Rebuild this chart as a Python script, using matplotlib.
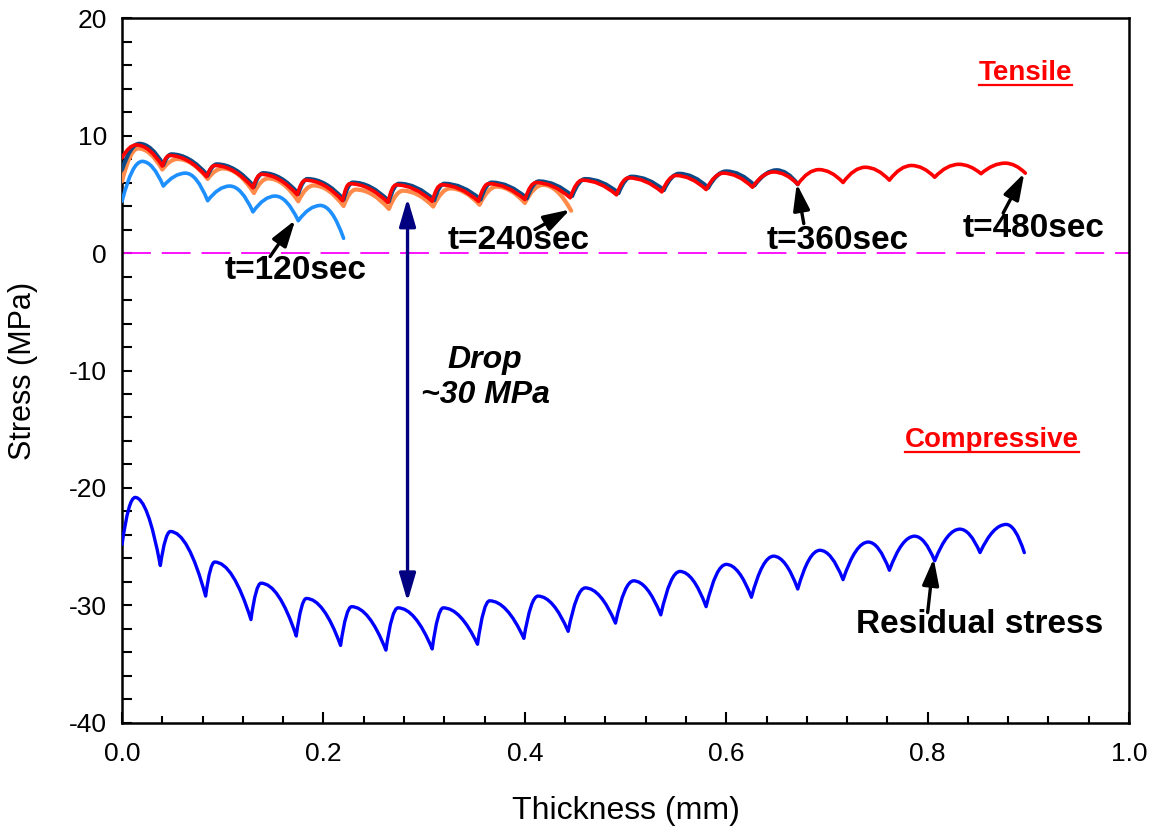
import matplotlib
matplotlib.use("Agg")
import matplotlib.pyplot as plt
from matplotlib.path import Path
from matplotlib.patches import PathPatch, FancyArrowPatch
from matplotlib.lines import Line2D

plt.rcParams['font.family'] = ['Liberation Sans', 'DejaVu Sans']

# Stress profiles through the thickness: each list alternates
# start / crest / trough / crest / ... / end of the deposited layers.
t120_x = [0.000, 0.020, 0.041, 0.063, 0.085, 0.107, 0.130, 0.152, 0.175, 0.197, 0.220]
t120_y = [4.4, 7.8, 5.7, 6.8, 4.45, 5.7, 3.5, 4.85, 2.75, 4.05, 1.25]

t240_x = [0.000, 0.016, 0.040, 0.055, 0.085, 0.100, 0.131, 0.145, 0.175, 0.190,
          0.220, 0.232, 0.265, 0.279, 0.309, 0.326, 0.355, 0.372, 0.400, 0.418, 0.446]
t240_y = [6.1, 8.9, 7.1, 8.0, 6.3, 7.2, 5.1, 6.35, 4.4, 5.75,
          4.0, 5.4, 3.75, 5.3, 3.95, 5.5, 4.1, 5.65, 4.25, 5.8, 3.6]

t360_x = [0.000, 0.017, 0.041, 0.049, 0.085, 0.094, 0.131, 0.140, 0.175, 0.184,
          0.220, 0.229, 0.265, 0.275, 0.310, 0.320, 0.356, 0.367, 0.402, 0.414,
          0.447, 0.460, 0.493, 0.506, 0.538, 0.553, 0.582, 0.600, 0.628, 0.650, 0.671]
t360_y = [7.1, 9.3, 7.5, 8.4, 6.6, 7.55, 5.65, 6.8, 5.05, 6.3,
          4.55, 6.0, 4.4, 5.9, 4.5, 5.9, 4.55, 6.0, 4.65, 6.1,
          4.85, 6.3, 5.1, 6.5, 5.35, 6.75, 5.55, 6.95, 5.75, 7.05, 5.85]

t480_x = [0.000, 0.014, 0.040, 0.047, 0.084, 0.092, 0.130, 0.138, 0.174, 0.182,
          0.219, 0.226, 0.264, 0.272, 0.308, 0.317, 0.354, 0.364, 0.400, 0.411,
          0.445, 0.457, 0.491, 0.503, 0.536, 0.550, 0.580, 0.597, 0.626, 0.647,
          0.671, 0.692, 0.716, 0.738, 0.762, 0.784, 0.807, 0.831, 0.853, 0.877, 0.897]
t480_y = [8.1, 9.2, 7.4, 8.3, 6.5, 7.45, 5.55, 6.7, 4.95, 6.2,
          4.45, 5.9, 4.3, 5.8, 4.4, 5.8, 4.4, 5.9, 4.55, 6.0,
          4.7, 6.2, 4.95, 6.4, 5.2, 6.6, 5.4, 6.8, 5.6, 6.9,
          5.85, 7.1, 6.0, 7.3, 6.2, 7.45, 6.45, 7.55, 6.75, 7.65, 6.8]

resid_x = [0.000, 0.013, 0.038, 0.048, 0.083, 0.092, 0.128, 0.138, 0.173, 0.183,
           0.217, 0.228, 0.262, 0.274, 0.308, 0.319, 0.353, 0.365, 0.399, 0.413,
           0.443, 0.460, 0.490, 0.508, 0.535, 0.554, 0.580, 0.600, 0.625, 0.647,
           0.671, 0.693, 0.716, 0.741, 0.762, 0.787, 0.807, 0.832, 0.852, 0.878, 0.896]
resid_y = [-24.8, -20.8, -26.6, -23.7, -29.2, -26.3, -31.2, -28.1, -32.6, -29.4,
           -33.4, -30.1, -33.8, -30.2, -33.7, -30.2, -33.3, -29.6, -32.8, -29.2,
           -32.2, -28.5, -31.5, -27.9, -30.8, -27.1, -30.1, -26.5, -29.3, -25.8,
           -28.6, -25.3, -27.8, -24.6, -27.0, -24.1, -26.2, -23.5, -25.5, -23.1, -25.5]

x_ticks = [0.0, 0.2, 0.4, 0.6, 0.8, 1.0]
x_tick_labels = ['0.0', '0.2', '0.4', '0.6', '0.8', '1.0']
y_ticks = [-40, -30, -20, -10, 0, 10, 20]
y_tick_labels = ['-40', '-30', '-20', '-10', '0', '10', '20']


def scallop_path(xs, ys):
    """Chain of parabolic arcs; every odd index is a crest with a flat tangent."""
    verts = [(xs[0], ys[0])]
    codes = [Path.MOVETO]
    for i in range(len(xs) - 1):
        crest = i + 1 if i % 2 == 0 else i
        verts.append(((xs[i] + xs[i + 1]) / 2.0, ys[crest]))
        verts.append((xs[i + 1], ys[i + 1]))
        codes += [Path.CURVE3, Path.CURVE3]
    return Path(verts, codes)


fig = plt.figure(figsize=(11.58, 8.31), dpi=100)
ax = fig.add_axes([0.1054, 0.130, 0.8696, 0.8483])
ax.set_xlim(0.0, 1.0)
ax.set_ylim(-40, 20)

series = [
    (t120_x, t120_y, '#1E8FFF', 2.6),
    (t240_x, t240_y, '#FF8A4A', 3.0),
    (t360_x, t360_y, '#0B4A86', 3.0),
    (t480_x, t480_y, '#FF0000', 2.6),
    (resid_x, resid_y, '#0000FF', 2.4),
]
for z, (xs, ys, col, lw) in enumerate(series):
    ax.add_patch(PathPatch(scallop_path(xs, ys), facecolor='none', edgecolor=col,
                           lw=lw, joinstyle='round', capstyle='round', zorder=3 + z))

# zero-stress reference
ax.axhline(0, color='#FF00FF', lw=1.3, dashes=(16, 6), zorder=2)

# stress drop between the last deposition step and the residual state
ax.add_patch(FancyArrowPatch((0.2835, 4.9), (0.2835, -29.9),
                             arrowstyle='<|-|>,head_length=0.85,head_width=0.25',
                             mutation_scale=20, color='#000080', lw=2.4, zorder=9))

label_kw = dict(fontsize=24, fontweight='bold', color='black', ha='center', va='center')
arrow_kw = dict(arrowstyle='-|>,head_length=0.8,head_width=0.25', color='black', lw=2.4,
                mutation_scale=20, shrinkA=0, shrinkB=0)

notes = [
    ('t=120sec', (0.172, -1.45), (0.147, -0.3), (0.172, 2.8)),
    ('t=240sec', (0.394, 1.1), (0.410, 2.0), (0.445, 3.7)),
    ('t=360sec', (0.711, 1.1), (0.677, 2.5), (0.670, 5.9)),
    ('t=480sec', (0.905, 2.05), (0.875, 3.4), (0.896, 6.8)),
    ('Residual stress', (0.852, -31.65), (0.800, -30.6), (0.806, -26.0)),
]
for text, pos, tail, head in notes:
    ax.text(pos[0], pos[1], text, zorder=10, **label_kw)
    ax.add_patch(FancyArrowPatch(tail, head, zorder=10, **arrow_kw))

ax.text(0.3605, -10.6, 'Drop\n~30 MPa', fontsize=23, fontweight='bold', style='italic',
        ha='center', va='center', linespacing=1.25, zorder=10)

under_texts = [
    ax.text(0.897, 15.35, 'Tensile', fontsize=20, fontweight='bold', color='#FF0000',
            ha='center', va='center', zorder=10),
    ax.text(0.864, -15.95, 'Compressive', fontsize=20, fontweight='bold', color='#FF0000',
            ha='center', va='center', zorder=10),
]

ax.set_xticks(x_ticks)
ax.set_xticklabels(x_tick_labels)
ax.set_yticks(y_ticks)
ax.set_yticklabels(y_tick_labels)
ax.set_xticks([i * 0.04 for i in range(26)], minor=True)
ax.set_yticks(list(range(-40, 21, 2)), minor=True)
ax.tick_params(axis='both', which='both', direction='in', top=False, right=False,
               labelsize=19, width=1.5)
ax.tick_params(axis='x', which='major', length=8, pad=14)
ax.tick_params(axis='x', which='minor', length=5)
ax.tick_params(axis='y', which='both', length=7, pad=11)
for sp in ax.spines.values():
    sp.set_linewidth(1.8)

ax.set_xlabel('Thickness (mm)', fontsize=23)
ax.set_ylabel('Stress (MPa)', fontsize=22)
ax.xaxis.set_label_coords(0.5, -0.103)
ax.yaxis.set_label_coords(-0.083, 0.5)

# underline the red region labels
fig.canvas.draw()
renderer = fig.canvas.get_renderer()
for t in under_texts:
    bb = t.get_window_extent(renderer)
    x0, x1 = bb.x0 / fig.bbox.width, bb.x1 / fig.bbox.width
    y = (bb.y0 + 1.0) / fig.bbox.height
    fig.add_artist(Line2D([x0, x1], [y, y], transform=fig.transFigure,
                          color='#FF0000', lw=1.6))

fig.savefig('out.png', dpi=100)
